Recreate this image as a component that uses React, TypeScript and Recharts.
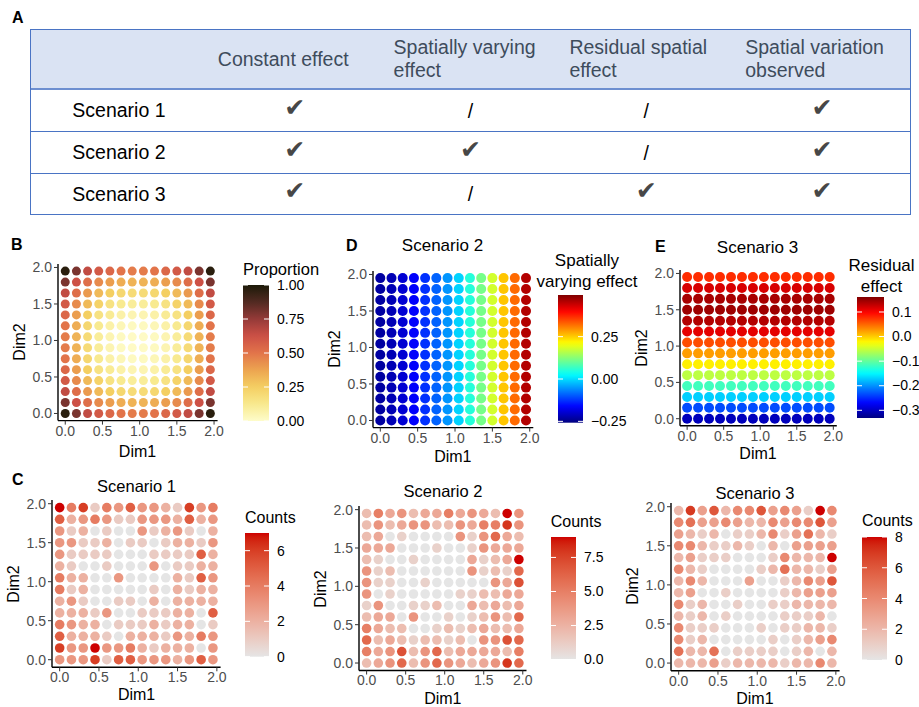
import React from 'react';
import { ScatterChart, Scatter, XAxis, YAxis } from 'recharts';

const FONT = '"Liberation Sans", Arial, Helvetica, sans-serif';

// grid positions used by every map (Dim1 / Dim2)
const dimSteps = [0, 0.15, 0.3, 0.45, 0.6, 0.75, 0.9, 1.05, 1.2, 1.35, 1.5, 1.65, 1.8, 1.95];
const axisTicks = [0, 0.5, 1, 1.5, 2];

// panel A table
const tableHeader = [[], ['Constant effect'], ['Spatially varying', 'effect'], ['Residual spatial', 'effect'], ['Spatial variation', 'observed']];
const tableRows = ['Scenario 1', 'Scenario 2', 'Scenario 3'];
const tableMarks = [
  [true, false, false, true],
  [true, true, false, true],
  [true, false, true, true],
];

// panel B: proportion, rows from Dim2 = 1.95 (top) down to 0
const proportionRows = [
  [0.97, 0.80, 0.65, 0.59, 0.54, 0.50, 0.48, 0.48, 0.50, 0.54, 0.59, 0.65, 0.80, 0.97],
  [0.80, 0.62, 0.52, 0.44, 0.39, 0.35, 0.33, 0.33, 0.35, 0.39, 0.44, 0.52, 0.62, 0.80],
  [0.65, 0.52, 0.40, 0.31, 0.25, 0.21, 0.19, 0.19, 0.21, 0.25, 0.31, 0.40, 0.52, 0.65],
  [0.59, 0.44, 0.31, 0.23, 0.16, 0.12, 0.10, 0.10, 0.12, 0.16, 0.23, 0.31, 0.44, 0.59],
  [0.54, 0.39, 0.25, 0.16, 0.11, 0.07, 0.05, 0.05, 0.07, 0.11, 0.16, 0.25, 0.39, 0.54],
  [0.50, 0.35, 0.21, 0.12, 0.07, 0.04, 0.02, 0.02, 0.04, 0.07, 0.12, 0.21, 0.35, 0.50],
  [0.48, 0.33, 0.19, 0.10, 0.05, 0.02, 0.01, 0.01, 0.02, 0.05, 0.10, 0.19, 0.33, 0.48],
  [0.48, 0.33, 0.19, 0.10, 0.05, 0.02, 0.01, 0.01, 0.02, 0.05, 0.10, 0.19, 0.33, 0.48],
  [0.50, 0.35, 0.21, 0.12, 0.07, 0.04, 0.02, 0.02, 0.04, 0.07, 0.12, 0.21, 0.35, 0.50],
  [0.54, 0.39, 0.25, 0.16, 0.11, 0.07, 0.05, 0.05, 0.07, 0.11, 0.16, 0.25, 0.39, 0.54],
  [0.59, 0.44, 0.31, 0.23, 0.16, 0.12, 0.10, 0.10, 0.12, 0.16, 0.23, 0.31, 0.44, 0.59],
  [0.65, 0.52, 0.40, 0.31, 0.25, 0.21, 0.19, 0.19, 0.21, 0.25, 0.31, 0.40, 0.52, 0.65],
  [0.80, 0.62, 0.52, 0.44, 0.39, 0.35, 0.33, 0.33, 0.35, 0.39, 0.44, 0.52, 0.62, 0.80],
  [0.97, 0.80, 0.65, 0.59, 0.54, 0.50, 0.48, 0.48, 0.50, 0.54, 0.59, 0.65, 0.80, 0.97],
];

// panel D: spatially varying effect, one value per Dim1 column
const svEffectByCol = [-0.233, -0.218, -0.196, -0.166, -0.128, -0.091, -0.053, -0.008, 0.052, 0.112, 0.18, 0.255, 0.323, 0.458];
// panel E: residual effect, one value per Dim2 row (top to bottom)
const residualByRow = [0.078, 0.118, 0.141, 0.146, 0.136, 0.112, 0.062, 0.023, -0.017, -0.056, -0.116, -0.17, -0.234, -0.303];

// panel C: observed counts, rows top to bottom
const counts1 = [
  [7, 4, 6, 1, 4, 3, 5, 3, 3, 2, 1, 6, 3, 4],
  [5, 2, 3, 4, 3, 1, 1, 3, 3, 3, 2, 5, 2, 3],
  [3, 1, 2, 0, 1, 0, 0, 3, 1, 2, 3, 1, 0, 2],
  [3, 3, 1, 1, 2, 0, 1, 1, 0, 1, 2, 2, 1, 3],
  [3, 1, 1, 1, 1, 0, 0, 0, 1, 1, 1, 1, 5, 2],
  [2, 1, 0, 0, 1, 0, 0, 0, 3, 0, 1, 1, 2, 2],
  [4, 2, 2, 0, 0, 3, 0, 0, 0, 0, 2, 1, 5, 3],
  [4, 1, 2, 0, 0, 0, 0, 0, 1, 0, 2, 1, 2, 2],
  [2, 3, 1, 0, 0, 1, 1, 0, 2, 0, 2, 2, 2, 2],
  [2, 2, 2, 1, 3, 0, 0, 1, 1, 1, 2, 2, 0, 5],
  [4, 3, 2, 2, 0, 1, 1, 1, 2, 1, 2, 2, 0, 1],
  [5, 2, 2, 2, 1, 0, 2, 2, 2, 1, 3, 2, 4, 3],
  [6, 3, 3, 7, 3, 3, 4, 2, 1, 2, 2, 2, 0, 3],
  [3, 3, 3, 6, 1, 5, 5, 3, 3, 3, 2, 3, 5, 3],
];
const counts2 = [
  [2, 5, 3, 4, 2, 3, 3, 5, 3, 4, 3, 2, 9, 4],
  [2, 4, 2, 3, 4, 4, 2, 2, 4, 3, 5, 5, 8, 4],
  [2, 3, 0, 1, 0, 0, 0, 0, 4, 1, 4, 6, 3, 2],
  [3, 3, 3, 0, 0, 0, 1, 0, 0, 1, 4, 3, 3, 3],
  [2, 1, 0, 0, 1, 0, 0, 0, 0, 3, 1, 2, 3, 9],
  [4, 1, 2, 0, 0, 0, 0, 0, 0, 4, 1, 2, 1, 6],
  [4, 1, 1, 0, 0, 1, 0, 0, 0, 0, 0, 4, 3, 7],
  [4, 0, 1, 0, 0, 0, 0, 0, 1, 1, 2, 2, 3, 3],
  [1, 4, 0, 0, 1, 1, 2, 0, 0, 3, 2, 3, 2, 3],
  [2, 3, 3, 0, 4, 0, 0, 1, 0, 1, 2, 4, 2, 6],
  [5, 3, 2, 2, 0, 0, 1, 2, 1, 2, 3, 2, 2, 3],
  [6, 2, 3, 2, 1, 2, 2, 1, 2, 0, 4, 4, 7, 6],
  [5, 3, 4, 7, 2, 4, 6, 2, 3, 3, 3, 3, 2, 5],
  [2, 3, 4, 6, 2, 4, 6, 4, 3, 2, 3, 4, 8, 6],
];
const counts3 = [
  [2, 7, 3, 6, 2, 4, 4, 6, 3, 4, 3, 1, 8, 4],
  [4, 5, 3, 3, 4, 3, 2, 2, 4, 3, 4, 4, 6, 3],
  [3, 2, 1, 2, 0, 1, 1, 2, 4, 1, 3, 5, 2, 1],
  [4, 4, 2, 1, 1, 2, 1, 0, 2, 0, 3, 3, 3, 3],
  [2, 3, 1, 1, 1, 0, 0, 0, 1, 4, 2, 2, 2, 8],
  [4, 2, 1, 0, 0, 0, 0, 1, 2, 5, 2, 2, 1, 3],
  [2, 4, 2, 0, 0, 0, 3, 0, 0, 1, 2, 4, 3, 6],
  [2, 3, 0, 0, 1, 0, 0, 0, 0, 1, 2, 3, 3, 3],
  [4, 1, 2, 0, 0, 1, 0, 0, 1, 1, 2, 2, 2, 2],
  [2, 1, 2, 0, 1, 0, 0, 0, 0, 1, 1, 1, 2, 0],
  [4, 1, 1, 1, 0, 0, 0, 1, 0, 1, 1, 2, 2, 1],
  [4, 1, 2, 0, 0, 0, 0, 0, 1, 0, 1, 2, 3, 4],
  [5, 2, 2, 5, 0, 1, 1, 1, 1, 0, 1, 2, 0, 2],
  [2, 2, 2, 3, 1, 2, 2, 2, 2, 1, 2, 2, 4, 2],
];

// ---- colour helpers ----
const hexRgb = (h: string) => [1, 3, 5].map((i) => parseInt(h.slice(i, i + 2), 16));
const rgbHex = (c: number[]) => '#' + c.map((v) => Math.round(Math.max(0, Math.min(255, v))).toString(16).padStart(2, '0')).join('');

const ramp = (stops: string[]) => (t: number) => {
  const u = Math.max(0, Math.min(1, t)) * (stops.length - 1);
  const i = Math.min(stops.length - 2, Math.floor(u));
  const f = u - i;
  const a = hexRgb(stops[i]);
  const b = hexRgb(stops[i + 1]);
  return rgbHex(a.map((v, k) => v + (b[k] - v) * f));
};

const toLin = (c: number) => { c /= 255; return c <= 0.04045 ? c / 12.92 : Math.pow((c + 0.055) / 1.055, 2.4); };
const fromLin = (c: number) => 255 * (c <= 0.0031308 ? 12.92 * c : 1.055 * Math.pow(Math.max(c, 0), 1 / 2.4) - 0.055);
const toLab = (hex: string) => {
  const [r, g, b] = hexRgb(hex).map(toLin);
  const X = (0.4124 * r + 0.3576 * g + 0.1805 * b) / 0.95047;
  const Y = 0.2126 * r + 0.7152 * g + 0.0722 * b;
  const Z = (0.0193 * r + 0.1192 * g + 0.9505 * b) / 1.08883;
  const f = (t: number) => (t > 0.008856 ? Math.cbrt(t) : 7.787 * t + 16 / 116);
  return [116 * f(Y) - 16, 500 * (f(X) - f(Y)), 200 * (f(Y) - f(Z))];
};
const fromLab = ([L, A, B]: number[]) => {
  const fy = (L + 16) / 116, fx = fy + A / 500, fz = fy - B / 200;
  const inv = (t: number) => (t * t * t > 0.008856 ? t * t * t : (t - 16 / 116) / 7.787);
  const X = inv(fx) * 0.95047, Y = inv(fy), Z = inv(fz) * 1.08883;
  const r = 3.2406 * X - 1.5372 * Y - 0.4986 * Z;
  const g = -0.9689 * X + 1.8758 * Y + 0.0415 * Z;
  const b = 0.0557 * X - 0.204 * Y + 1.057 * Z;
  return rgbHex([fromLin(r), fromLin(g), fromLin(b)]);
};
const labRamp = (lo: string, hi: string) => {
  const a = toLab(lo), b = toLab(hi);
  return (t: number) => { const u = Math.max(0, Math.min(1, t)); return fromLab(a.map((v, k) => v + (b[k] - v) * u)); };
};

const lajolla = ramp(['#fefcca', '#f8e98e', '#f4cf62', '#eca450', '#e2744a', '#cc5046', '#953a38', '#522a22', '#1c1a08']);
const jet = ramp(['#00007F', '#0000FF', '#007FFF', '#00FFFF', '#7FFF7F', '#FFFF00', '#FF7F00', '#FF0000', '#7F0000']);
const countRamp = labRamp('#e5e5e5', '#cd0000');

const scaled = (fn: (t: number) => string, min: number, max: number) => (v: number) => fn((v - min) / (max - min));

const gridPoints = (val: (r: number, c: number) => number) => {
  const pts: { x: number; y: number; v: number }[] = [];
  for (let r = 0; r < dimSteps.length; r++)
    for (let c = 0; c < dimSteps.length; c++)
      pts.push({ x: dimSteps[c], y: dimSteps[dimSteps.length - 1 - r], v: val(r, c) });
  return pts;
};

// ---- small text helper ----
const Txt: React.FC<{ x: number; y: number; size: number; anchor?: 'start' | 'middle'; color?: string; bold?: boolean; rotate?: boolean; font?: string; children: React.ReactNode }> =
  ({ x, y, size, anchor = 'middle', color = '#000', bold = false, rotate = false, font = FONT, children }) => (
    <div
      style={{
        position: 'absolute', left: x, top: y, fontSize: size, lineHeight: 1, color, whiteSpace: 'nowrap',
        fontWeight: bold ? 700 : 400, fontFamily: font,
        transform: `translate(${anchor === 'middle' ? '-50%' : '0'}, -50%)${rotate ? ' rotate(-90deg)' : ''}`,
      }}
    >
      {children}
    </div>
  );

// ---- map panel ----
type Box = { left: number; right: number; top: number; bottom: number };
const ML = 46, MT = 8, MR = 14, XH = 26;
const DOM: [number, number] = [-0.0975, 2.0475];
const fmt = (v: number) => v.toFixed(1);

const MapPanel: React.FC<{ data: { x: number; y: number; v: number }[]; box: Box; color: (v: number) => string; r: number; dimDy?: number }> =
  ({ data, box, color, r, dimDy = 30 }) => {
    const w = box.right - box.left + ML + MR;
    const h = box.bottom - box.top + MT + XH;
    const renderDot = (p: any) => <circle cx={p.cx} cy={p.cy} r={r} fill={color(p.payload.v)} />;
    const tick = { fill: '#4d4d4d', fontSize: 14, fontFamily: FONT };
    return (
      <>
        <div style={{ position: 'absolute', left: box.left - ML, top: box.top - MT }}>
          <ScatterChart width={w} height={h} margin={{ top: MT, right: MR, left: 0, bottom: 0 }}>
            <XAxis type="number" dataKey="x" domain={DOM} allowDataOverflow ticks={axisTicks} interval={0}
              tickFormatter={fmt} height={XH} tickSize={4} tickMargin={1} tick={tick}
              axisLine={{ stroke: '#000', strokeWidth: 1.4 }} tickLine={{ stroke: '#333' }} />
            <YAxis type="number" dataKey="y" domain={DOM} allowDataOverflow ticks={axisTicks} interval={0}
              tickFormatter={fmt} width={ML} tickSize={4} tickMargin={2} tick={tick}
              axisLine={{ stroke: '#000', strokeWidth: 1.4 }} tickLine={{ stroke: '#333' }} />
            <Scatter data={data} isAnimationActive={false} shape={renderDot} />
          </ScatterChart>
        </div>
        <Txt x={(box.left + box.right) / 2} y={box.bottom + dimDy} size={16}>Dim1</Txt>
        <Txt x={box.left - 38} y={(box.top + box.bottom) / 2} size={16} rotate>Dim2</Txt>
      </>
    );
  };

// ---- colour bar legend ----
type LegendProps = {
  id: string; x: number; top: number; bottom: number; w?: number; min: number; max: number;
  color: (v: number) => string; ticks: number[]; labels: string[];
  title: string[]; titleX: number; titleY: number; titleCenter?: boolean; titleSize?: number;
};
const ColorBar: React.FC<LegendProps> = ({ id, x, top, bottom, w = 25, min, max, color, ticks, labels, title, titleX, titleY, titleCenter, titleSize = 17 }) => {
  const h = bottom - top;
  const yOf = (v: number) => ((max - v) / (max - min)) * h;
  const stops = Array.from({ length: 31 }, (_, i) => i / 30);
  return (
    <>
      {title.map((t, i) => (
        <Txt key={t} x={titleX} y={titleY + i * 21} size={titleSize} anchor={titleCenter ? 'middle' : 'start'}>{t}</Txt>
      ))}
      <svg width={w} height={h} style={{ position: 'absolute', left: x, top }}>
        <defs>
          <linearGradient id={id} x1="0" y1="0" x2="0" y2="1">
            {stops.map((s) => <stop key={s} offset={s} stopColor={color(max - s * (max - min))} />)}
          </linearGradient>
        </defs>
        <rect x={0} y={0} width={w} height={h} fill={`url(#${id})`} />
        {ticks.map((t) => (
          <g key={t} stroke="#fff" strokeWidth={1}>
            <line x1={0} x2={5} y1={yOf(t)} y2={yOf(t)} />
            <line x1={w - 5} x2={w} y1={yOf(t)} y2={yOf(t)} />
          </g>
        ))}
      </svg>
      {ticks.map((t, i) => (
        <Txt key={t} x={x + w + 8} y={top + yOf(t)} size={14} anchor="start">{labels[i]}</Txt>
      ))}
    </>
  );
};

// ---- panel A ----
const COLW = 176.2;
const EffectTable = () => (
  <div style={{ position: 'absolute', left: 30, top: 29, width: 881, border: '1px solid #4a74c4', boxSizing: 'border-box', fontFamily: FONT }}>
    <div style={{ display: 'flex', height: 58, background: '#dae3f3', borderBottom: '2px solid #6d8fd0', alignItems: 'center' }}>
      {tableHeader.map((lines, i) => (
        <div key={i} style={{ width: COLW, paddingLeft: 11, boxSizing: 'border-box', color: '#3e4c5c', fontSize: 19.5, lineHeight: '23px' }}>
          {lines.map((l) => <div key={l}>{l}</div>)}
        </div>
      ))}
    </div>
    {tableRows.map((row, r) => (
      <div key={row} style={{ display: 'flex', height: r === 2 ? 40 : 41, alignItems: 'center', borderBottom: r < 2 ? '1px solid #4a74c4' : 'none' }}>
        <div style={{ width: COLW, textAlign: 'center', fontSize: 19.5 }}>{row}</div>
        {tableMarks[r].map((m, c) => (
          <div key={c} style={{ width: COLW, textAlign: 'center', height: 24, lineHeight: '24px' }}>
            {m
              ? <span style={{ fontFamily: '"DejaVu Sans"', fontSize: 25, color: '#474747', position: 'relative', top: -3 }}>✔</span>
              : <span style={{ fontSize: 19.5 }}>/</span>}
          </div>
        ))}
      </div>
    ))}
  </div>
);

const dProp = { min: 0, max: 1 };
const dSv = { min: -0.258, max: 0.496 };
const dRes = { min: -0.3325, max: 0.161 };

const App = () => {
  const propColor = scaled(lajolla, dProp.min, dProp.max);
  const svColor = scaled(jet, dSv.min, dSv.max);
  const resColor = scaled(jet, dRes.min, dRes.max);
  const c1 = scaled(countRamp, 0, 7);
  const c2 = scaled(countRamp, 0, 9);
  const c3 = scaled(countRamp, 0, 8);
  return (
    <div style={{ position: 'absolute', left: 0, top: 0, width: 919, height: 707, background: '#fff', overflow: 'hidden', fontFamily: FONT }}>
      <Txt x={12} y={17.5} size={16} bold anchor="start">A</Txt>
      <EffectTable />

      <Txt x={11} y={244.5} size={16} bold anchor="start">B</Txt>
      <MapPanel data={gridPoints((r, c) => proportionRows[r][c])} box={{ left: 57.7, right: 217.3, top: 263.5, bottom: 420.1 }} color={propColor} r={4.5} dimDy={32} />
      <ColorBar id="gB" x={243} top={285} bottom={421} w={26} min={0} max={1} color={propColor}
        ticks={[0, 0.25, 0.5, 0.75, 1]} labels={['0.00', '0.25', '0.50', '0.75', '1.00']}
        title={['Proportion']} titleX={243} titleY={269} titleSize={16.5} />

      <Txt x={346} y={246} size={16} bold anchor="start">D</Txt>
      <Txt x={442.5} y={245} size={17}>Scenario 2</Txt>
      <MapPanel data={gridPoints((r, c) => svEffectByCol[c])} box={{ left: 372.7, right: 533, top: 270.5, bottom: 427.1 }} color={svColor} r={5} />
      <ColorBar id="gD" x={558} top={295} bottom={422.7} w={25} min={dSv.min} max={dSv.max} color={svColor}
        ticks={[-0.25, 0, 0.25]} labels={['\u22120.25', '0.00', '0.25']}
        title={['Spatially', 'varying effect']} titleX={587} titleY={260} titleCenter />

      <Txt x={655} y={246.5} size={16} bold anchor="start">E</Txt>
      <Txt x={757.5} y={247} size={17}>Scenario 3</Txt>
      <MapPanel data={gridPoints((r) => residualByRow[r])} box={{ left: 679.6, right: 836.4, top: 269.7, bottom: 425.5 }} color={resColor} r={5} dimDy={28} />
      <ColorBar id="gE" x={857} top={296.7} bottom={418} w={27} min={dRes.min} max={dRes.max} color={resColor}
        ticks={[-0.3, -0.2, -0.1, 0, 0.1]} labels={['\u22120.3', '\u22120.2', '\u22120.1', '0.0', '0.1']}
        title={['Residual', 'effect']} titleX={881.5} titleY={265} titleCenter />

      <Txt x={12} y={479.5} size={16} bold anchor="start">C</Txt>
      <Txt x={136.5} y={486} size={16.5}>Scenario 1</Txt>
      <MapPanel data={gridPoints((r, c) => counts1[r][c])} box={{ left: 52.3, right: 220.9, top: 500.3, bottom: 667.6 }} color={c1} r={4.8} dimDy={27.5} />
      <ColorBar id="gC1" x={245} top={533} bottom={656.7} w={24} min={0} max={7} color={c1}
        ticks={[0, 2, 4, 6]} labels={['0', '2', '4', '6']}
        title={['Counts']} titleX={245} titleY={518} titleSize={16} />

      <Txt x={443} y={491} size={16.5}>Scenario 2</Txt>
      <MapPanel data={gridPoints((r, c) => counts2[r][c])} box={{ left: 359.1, right: 526.6, top: 506.3, bottom: 670.8 }} color={c2} r={4.8} dimDy={28.5} />
      <ColorBar id="gC2" x={551} top={536.7} bottom={659.3} w={25} min={0} max={9} color={c2}
        ticks={[0, 2.5, 5, 7.5]} labels={['0.0', '2.5', '5.0', '7.5']}
        title={['Counts']} titleX={550.7} titleY={521.7} titleSize={16} />

      <Txt x={755} y={493} size={16.5}>Scenario 3</Txt>
      <MapPanel data={gridPoints((r, c) => counts3[r][c])} box={{ left: 670.6, right: 839.2, top: 502.6, bottom: 670.3 }} color={c3} r={4.8} dimDy={29} />
      <ColorBar id="gC3" x={862} top={537} bottom={660} w={25} min={0} max={8} color={c3}
        ticks={[0, 2, 4, 6, 8]} labels={['0', '2', '4', '6', '8']}
        title={['Counts']} titleX={862} titleY={521} titleSize={16} />
    </div>
  );
};

export default App;
